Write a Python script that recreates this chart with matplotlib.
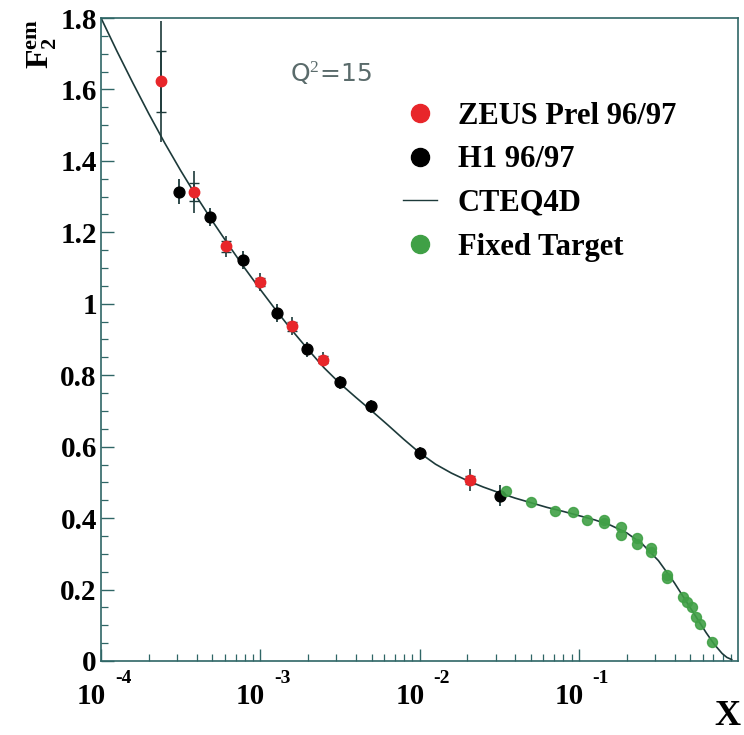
import numpy as np
import matplotlib
matplotlib.use("Agg")
import matplotlib.pyplot as plt
from matplotlib.lines import Line2D
from matplotlib.ticker import LogLocator, MultipleLocator, FixedLocator, NullFormatter

plt.rcParams['mathtext.fontset'] = 'custom'
plt.rcParams['mathtext.rm'] = 'Liberation Serif'
plt.rcParams['mathtext.bf'] = 'Liberation Serif:bold'
plt.rcParams['mathtext.it'] = 'Liberation Serif:italic'

# ZEUS Prel 96/97 (red)
zeus_x = [2.38e-4, 3.84e-4, 6.12e-4, 1.0e-3, 1.58e-3, 2.48e-3, 2.07e-2]
zeus_y = [1.623, 1.313, 1.161, 1.061, 0.937, 0.844, 0.507]
zeus_stat = [0.085, 0.026, 0.016, 0.012, 0.012, 0.010, 0.012]
zeus_tot = [0.17, 0.060, 0.030, 0.024, 0.025, 0.022, 0.030]

# H1 96/97 (black)
h1_x = [3.09e-4, 4.83e-4, 7.81e-4, 1.28e-3, 1.97e-3, 3.15e-3, 4.95e-3, 1.0e-2, 3.22e-2]
h1_y = [1.314, 1.242, 1.123, 0.975, 0.872, 0.780, 0.713, 0.582, 0.463]
h1_err = [0.036, 0.025, 0.025, 0.025, 0.020, 0.018, 0.018, 0.018, 0.030]

# Fixed target (green)
ft_x = [0.0351, 0.0504, 0.0714, 0.0918, 0.112, 0.143, 0.143, 0.185, 0.185,
        0.231, 0.231, 0.284, 0.284, 0.360, 0.360, 0.448, 0.481, 0.517,
        0.547, 0.575, 0.690]
ft_y = [0.477, 0.445, 0.421, 0.416, 0.395, 0.395, 0.385, 0.375, 0.353,
        0.344, 0.328, 0.316, 0.306, 0.241, 0.232, 0.180, 0.166, 0.150,
        0.124, 0.104, 0.054]

# CTEQ4D curve
cteq_x = [1.0e-4, 1.259e-4, 1.585e-4, 1.995e-4, 2.512e-4, 3.162e-4, 3.981e-4,
          5.012e-4, 6.310e-4, 7.943e-4, 1.0e-3, 1.259e-3, 1.585e-3, 1.995e-3,
          2.512e-3, 3.162e-3, 3.981e-3, 5.012e-3, 6.310e-3, 7.943e-3, 1.0e-2,
          1.259e-2, 1.585e-2, 1.995e-2, 2.512e-2, 3.162e-2, 3.981e-2, 5.012e-2,
          6.310e-2, 7.943e-2, 0.1, 0.1259, 0.1585, 0.1995, 0.2512, 0.3162,
          0.3981, 0.5012, 0.6310, 0.7079, 0.7943, 0.8511, 0.912]
cteq_y = [1.800, 1.707, 1.618, 1.532, 1.450, 1.373, 1.300,
          1.231, 1.165, 1.101, 1.040, 0.981, 0.925, 0.872,
          0.821, 0.777, 0.738, 0.700, 0.661, 0.621, 0.583,
          0.551, 0.526, 0.505, 0.487, 0.471, 0.456, 0.443,
          0.430, 0.419, 0.407, 0.395, 0.380, 0.359, 0.327, 0.281,
          0.219, 0.149, 0.079, 0.047, 0.021, 0.010, 0.004]

xticks = [1e-4, 1e-3, 1e-2, 1e-1]
xexps = ['-4', '-3', '-2', '-1']
yticks = [0, 0.2, 0.4, 0.6, 0.8, 1.0, 1.2, 1.4, 1.6, 1.8]
yticklabels = ['0', '0.2', '0.4', '0.6', '0.8', '1', '1.2', '1.4', '1.6', '1.8']

red = '#e8262a'
green = '#40a046'
dark = '#1d3a3a'
axcol = '#2f6666'
serif = 'Liberation Serif'

fig = plt.figure(figsize=(7.44, 7.35), dpi=100)
ax = fig.add_axes([0.1358, 0.1007, 0.8562, 0.8748])

ax.plot(cteq_x, cteq_y, color=dark, lw=1.2, zorder=2)

# ZEUS: total error as plain bar, stat error with caps
ax.errorbar(zeus_x, zeus_y, yerr=zeus_tot, fmt='none', ecolor=dark, elinewidth=1.2, zorder=3)
ax.errorbar(zeus_x, zeus_y, yerr=zeus_stat, fmt='none', ecolor=dark, elinewidth=1.2,
            capsize=3.6, capthick=1.0, zorder=3)
ax.plot(zeus_x, zeus_y, 'o', color=red, ms=7.5, mec=red, zorder=4)

ax.errorbar(h1_x, h1_y, yerr=h1_err, fmt='none', ecolor=dark, elinewidth=1.3, zorder=3)
ax.plot(h1_x, h1_y, 'o', color='black', ms=7.8, zorder=4)

ax.plot(ft_x, ft_y, 'o', color=green, ms=7.2, mec=green, alpha=0.9, zorder=4)

ax.set_xscale('log')
ax.set_xlim(1e-4, 1)
ax.set_ylim(0, 1.8)

ax.xaxis.set_major_locator(FixedLocator(xticks))
ax.xaxis.set_major_formatter(NullFormatter())
ax.xaxis.set_minor_locator(LogLocator(base=10, subs=np.arange(2, 10)))
ax.xaxis.set_minor_formatter(NullFormatter())
ax.yaxis.set_major_locator(FixedLocator(yticks))
ax.set_yticklabels(yticklabels)
ax.yaxis.set_minor_locator(MultipleLocator(0.05))

for lab in ax.get_yticklabels():
    lab.set_fontfamily(serif)
    lab.set_fontweight('bold')
ax.tick_params(axis='both', which='major', direction='in', length=9, width=1.0,
               color=axcol, labelcolor='black')
ax.tick_params(axis='both', which='minor', direction='in', length=5, width=0.9, color=axcol)
ax.tick_params(axis='y', which='major', pad=3, labelsize=21)
for s in ax.spines.values():
    s.set_color(axcol)
    s.set_linewidth(1.2)

# x tick labels "10" with raised exponent
for xt, ex in zip(xticks, xexps):
    ax.annotate('10', xy=(xt, 0), xycoords=('data', 'axes fraction'),
                xytext=(3.5, -15.5), textcoords='offset points', ha='right', va='top',
                fontfamily=serif, fontweight='bold', fontsize=21)
    ax.annotate(ex, xy=(xt, 0), xycoords=('data', 'axes fraction'),
                xytext=(10, -16), textcoords='offset points', ha='left', va='baseline',
                fontfamily=serif, fontweight='bold', fontsize=14)

fig.text(0.057, 0.974, r'$\mathbf{F_2^{em}}$', rotation=90, ha='center', va='top', fontsize=23)
fig.text(0.978, 0.025, 'X', fontfamily=serif, fontweight='bold', fontsize=26,
         ha='center', va='center')
ax.text(0.297, 0.914, r'Q$^2$=15', transform=ax.transAxes, fontfamily='DejaVu Sans',
        fontsize=18, color='#5a6b6b', ha='left', va='center')

handles = [
    Line2D([], [], ls='none', marker='o', color=red, ms=13),
    Line2D([], [], ls='none', marker='o', color='black', ms=13),
    Line2D([], [], color=dark, lw=1.0),
    Line2D([], [], ls='none', marker='o', color=green, ms=13),
]
labels = ['ZEUS Prel 96/97', 'H1 96/97', 'CTEQ4D', 'Fixed Target']
ax.legend(handles, labels, loc='upper left', bbox_to_anchor=(0.474, 0.870), frameon=False,
          prop={'family': serif, 'weight': 'bold', 'size': 22},
          handlelength=1.1, handletextpad=0.69, labelspacing=0.48, borderpad=0, borderaxespad=0)

fig.savefig('out.png', dpi=100)
